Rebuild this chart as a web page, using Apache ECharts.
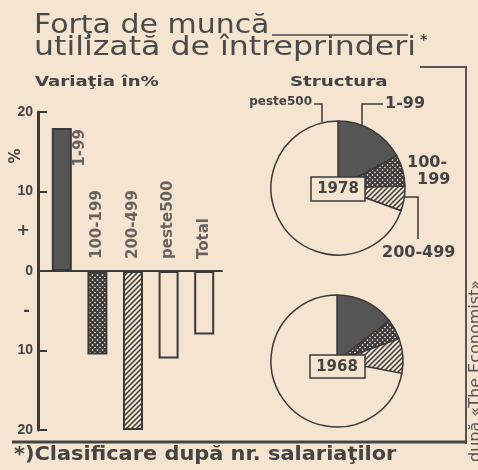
<!DOCTYPE html>
<html>
<head>
<meta charset="utf-8">
<script src="https://cdn.jsdelivr.net/npm/echarts@6/dist/echarts.min.js"></script>
<style>
html,body{margin:0;padding:0;background:#f4e4d0;}
#c{width:478px;height:470px;}
</style>
</head>
<body>
<div id="c"></div>
<script>
// ---- data ----
const categories = ['1-99', '100-199', '200-499', 'peste500', 'Total'];
const variation = [18, -10.5, -20, -11, -8];
const yTickLabels = { '20': '20', '10': '10', '0': '0', '-10': '10', '-20': '20' };
const ySignLabels = { '5': '+', '-5': '-' };
const pieCategories = ['1-99', '100-199', '200-499', 'peste 500'];
const share1978 = [17, 7.5, 6, 69.5];
const share1968 = [14.5, 5, 8.5, 72];

const PAPER = '#f4e4d0';
const INK = '#3a3a3a';
const TXT = '#444';

function crossPattern() {
  const c = document.createElement('canvas'); c.width = 5; c.height = 5;
  const g = c.getContext('2d');
  g.fillStyle = PAPER; g.fillRect(0, 0, 5, 5);
  g.strokeStyle = INK; g.lineWidth = 2;
  g.beginPath();
  g.moveTo(0, 0); g.lineTo(5, 5);
  g.moveTo(5, 0); g.lineTo(0, 5);
  g.stroke();
  return { image: c, repeat: 'repeat' };
}
function hatchPattern() {
  const c = document.createElement('canvas'); c.width = 5; c.height = 5;
  const g = c.getContext('2d');
  g.fillStyle = PAPER; g.fillRect(0, 0, 5, 5);
  g.strokeStyle = INK; g.lineWidth = 1.5;
  g.beginPath();
  g.moveTo(-1, 6); g.lineTo(6, -1);
  g.moveTo(-1, 1); g.lineTo(1, -1);
  g.moveTo(4, 6); g.lineTo(6, 4);
  g.stroke();
  return { image: c, repeat: 'repeat' };
}
const fills = ['#555555', crossPattern(), hatchPattern(), PAPER, PAPER];
const pieFills = ['#555555', crossPattern(), hatchPattern(), PAPER];

const FONT = 'DejaVu Sans';

const chart = echarts.init(document.getElementById('c'), null, { renderer: 'canvas' });

const barData = variation.map((v, i) => ({
  value: v,
  itemStyle: { color: fills[i], borderColor: INK, borderWidth: 2 }
}));

// category labels: first one beside the bar top, others rising from the zero line
// (label offset is applied in the rotated frame: [up, right])
const labelData = categories.map((c, i) => i === 0
  ? { value: [c, variation[i]], label: { align: 'center', verticalAlign: 'middle', offset: [-20, 18] } }
  : { value: [c, 0], label: { align: 'left', verticalAlign: 'middle', offset: [12, 0] } });

function pieSeries(values, center, r) {
  return {
    type: 'pie', center: center, radius: r, startAngle: 90, clockwise: true,
    silent: true, animation: false, label: { show: false }, labelLine: { show: false },
    data: values.map((v, i) => ({ name: pieCategories[i], value: v, itemStyle: { color: pieFills[i] } })),
    itemStyle: { borderColor: INK, borderWidth: 1.5 }
  };
}

function txt(text, x, y, font, extra) {
  return Object.assign({
    type: 'text', x: x, y: y, z: 100,
    style: { text: text, font: font, fill: TXT, align: 'left', verticalAlign: 'top' }
  }, extra || {});
}

const option = {
  backgroundColor: PAPER,
  animation: false,
  textStyle: { fontFamily: FONT },
  grid: { left: 44, top: 112, width: 178, height: 318 },
  xAxis: {
    type: 'category', data: categories,
    axisLine: { onZero: true, lineStyle: { color: INK, width: 2 } },
    axisTick: { show: false },
    axisLabel: { show: false }
  },
  yAxis: [{
    type: 'value', min: -20, max: 20, interval: 10, offset: 6,
    axisLine: { show: true, lineStyle: { color: INK, width: 3 } },
    axisTick: { show: true, inside: true, length: 9, lineStyle: { color: INK, width: 2 } },
    splitLine: { show: false },
    axisLabel: {
      color: TXT, fontFamily: 'Liberation Sans', fontWeight: 'bold', fontSize: 14, margin: 5,
      formatter: v => yTickLabels[String(v)] || ''
    }
  }, {
    type: 'value', min: -20, max: 20, interval: 5, position: 'left', offset: 6,
    axisLine: { show: false }, axisTick: { show: false }, splitLine: { show: false },
    axisLabel: {
      color: TXT, fontFamily: FONT, fontWeight: 'bold', fontSize: 16, margin: 8,
      formatter: v => ySignLabels[String(v)] || ''
    }
  }],
  series: [{
    type: 'bar', data: barData, barWidth: 20, silent: true
  }, {
    type: 'scatter', symbolSize: 0, silent: true, z: 5,
    data: labelData,
    label: {
      show: true, position: 'inside', rotate: 90,
      formatter: p => p.value[0],
      color: TXT, fontFamily: FONT, fontWeight: 'bold', fontSize: 15
    }
  },
    pieSeries(share1978, [338, 188], 67),
    pieSeries(share1968, [337, 361], 66)
  ],
  graphic: [
    txt('Forţa de muncă', 34, 12, '27px "DejaVu Sans"', { scaleX: 1.11, style: { text: 'Forţa de muncă', font: '27px "DejaVu Sans"', fill: '#4a4a4a', align: 'left', verticalAlign: 'top' } }),
    txt('utilizată de întreprinderi', 34, 34, '27px "DejaVu Sans"', { scaleX: 1.17, style: { text: 'utilizată de întreprinderi', font: '27px "DejaVu Sans"', fill: '#4a4a4a', align: 'left', verticalAlign: 'top' } }),
    { type: 'line', z: 100, shape: { x1: 272, y1: 35, x2: 408, y2: 35 }, style: { stroke: '#4a4a4a', lineWidth: 1.5 } },
    txt('*', 420, 33, 'bold 14px "DejaVu Sans"'),
    { type: 'polyline', z: 100, shape: { points: [[420, 67], [466, 67], [466, 444]] }, style: { stroke: '#555', lineWidth: 2, fill: null } },
    txt('Variaţia în%', 35, 75, 'bold 14px "DejaVu Sans"', { scaleX: 1.3 }),
    txt('Structura', 290, 75, 'bold 14px "DejaVu Sans"', { scaleX: 1.3 }),
    { type: 'text', x: 16, y: 156, rotation: Math.PI / 2, z: 100, style: { text: '%', font: 'bold 15px "DejaVu Sans"', fill: TXT, align: 'center', verticalAlign: 'middle' } },
    { type: 'line', z: 100, shape: { x1: 12, y1: 442, x2: 467, y2: 442 }, style: { stroke: '#444', lineWidth: 3 } },
    txt('*)Clasificare după nr. salariaţilor', 14, 446, 'bold 19px "DejaVu Sans"', { scaleX: 1.1 }),
    { type: 'text', x: 476, y: 462, rotation: Math.PI / 2, z: 100, style: { text: 'după «The Economist»', font: '16px "DejaVu Sans"', fill: '#555', align: 'left', verticalAlign: 'middle' } },
    // pie annotations
    { type: 'text', x: 312, y: 102, z: 100, style: { text: 'peste500', font: 'bold 12px "DejaVu Sans"', fill: TXT, align: 'right', verticalAlign: 'middle' } },
    { type: 'polyline', z: 100, shape: { points: [[314, 104], [322, 104], [322, 122]] }, style: { stroke: INK, lineWidth: 1.5, fill: null } },
    { type: 'text', x: 385, y: 104, z: 100, style: { text: '1-99', font: 'bold 16px "DejaVu Sans"', fill: TXT, align: 'left', verticalAlign: 'middle' } },
    { type: 'polyline', z: 100, shape: { points: [[383, 104], [362, 104], [362, 125]] }, style: { stroke: INK, lineWidth: 1.5, fill: null } },
    { type: 'text', x: 407, y: 163, z: 100, style: { text: '100-', font: 'bold 16px "DejaVu Sans"', fill: TXT, align: 'left', verticalAlign: 'middle' } },
    { type: 'text', x: 417, y: 180, z: 100, style: { text: '199', font: 'bold 16px "DejaVu Sans"', fill: TXT, align: 'left', verticalAlign: 'middle' } },
    { type: 'text', x: 382, y: 253, z: 100, style: { text: '200-499', font: 'bold 16px "DejaVu Sans"', fill: TXT, align: 'left', verticalAlign: 'middle' } },
    { type: 'polyline', z: 100, shape: { points: [[404, 197], [418, 197], [418, 239]] }, style: { stroke: INK, lineWidth: 1.5, fill: null } },
    { type: 'rect', z: 100, shape: { x: 311, y: 177, width: 54, height: 24 }, style: { fill: PAPER, stroke: INK, lineWidth: 1.5 } },
    { type: 'text', x: 338, y: 189, z: 101, style: { text: '1978', font: 'bold 15px "DejaVu Sans"', fill: TXT, align: 'center', verticalAlign: 'middle' } },
    { type: 'rect', z: 100, shape: { x: 310, y: 355, width: 55, height: 23 }, style: { fill: PAPER, stroke: INK, lineWidth: 1.5 } },
    { type: 'text', x: 337, y: 367, z: 101, style: { text: '1968', font: 'bold 15px "DejaVu Sans"', fill: TXT, align: 'center', verticalAlign: 'middle' } }
  ]
};
chart.setOption(option);
</script>
</body>
</html>
